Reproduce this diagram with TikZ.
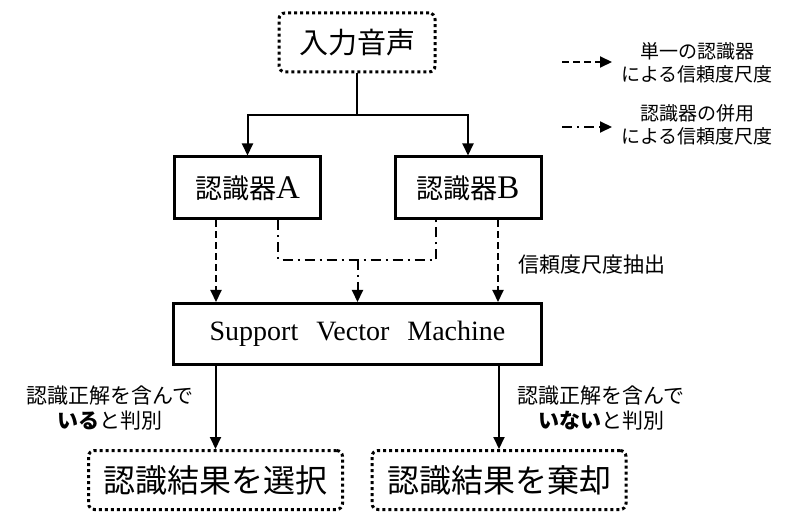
\documentclass[tikz,border=0pt]{standalone}
\usepackage{fontspec}
\setmainfont{Liberation Serif}
\newfontfamily\jp{Noto Sans CJK JP}
\usetikzlibrary{arrows.meta,calc,positioning}
\newcommand{\jpbox}[1]{{\jp\fontsize{27}{27}\selectfont #1}}
\tikzset{dotbox/.style={rectangle,draw,line width=3pt,dash pattern=on 3pt off 3pt,
rounded corners=6pt,inner sep=0pt,font=\jp\fontsize{32}{32}\selectfont},
recog/.style={rectangle,draw,line width=3pt,minimum width=146pt,minimum height=62pt,
inner sep=0pt,font=\fontsize{33}{33}\selectfont},
flow/.style={line width=2pt},
single/.style={flow,dash pattern=on 7pt off 4pt},
joint/.style={flow,dash pattern=on 10pt off 5pt on 2pt off 5pt},
lbl/.style={font=\jp\fontsize{19}{23}\selectfont,align=center,inner sep=0pt},
>={Triangle[length=12pt,width=11pt]}}

\begin{document}
\begin{tikzpicture}[x=1pt,y=-1pt]
  \useasboundingbox (0,0) rectangle (793,513);

  \node (voice) [dotbox,minimum width=156pt,minimum height=59pt,
    font=\jp\fontsize{29}{29}\selectfont] at (357,42.5) {入力音声};
  \coordinate (split) at (357,115);
  \node (recA) [recog] at (247.5,188) {\jpbox{認識器}A};
  \node (recB) [recog] at (468,188) {\jpbox{認識器}B};
  \node (svm) [recog,minimum width=368pt,minimum height=61pt,
    font=\fontsize{28}{28}\selectfont] at (357.5,334)
    {Support\hspace{18pt}Vector\hspace{18pt}Machine};
  \coordinate (merge) at (svm.north |- 0,260);
  \node (select) [dotbox,minimum width=254pt,minimum height=59pt] at (215.5,480) {認識結果を選択};
  \node (reject) [dotbox,minimum width=254pt,minimum height=59pt] at (499,480) {認識結果を棄却};

  \draw [flow] (voice) -- (split);
  \draw [flow,->] (split) -| (recA);
  \draw [flow,->] (split) -| (recB);

  \draw [single,->] ([xshift=-31.5pt]recA.south) -- ([xshift=-31.5pt]recA.south |- svm.north);
  \draw [single,->] ([xshift=30pt]recB.south) -- ([xshift=30pt]recB.south |- svm.north);
  \draw [joint] ([xshift=30.5pt]recA.south) |- (merge) -| ([xshift=-32pt]recB.south);
  \draw [joint,->] (merge) -- (svm.north);

  \draw [flow,->] (select.north |- svm.south) -- (select.north);
  \draw [flow,->] (reject.north |- svm.south) -- (reject.north);

  \node (extract) [lbl,font=\jp\fontsize{21}{25}\selectfont] at (592,265) {信頼度尺度抽出};
  \node (selectlbl) [lbl,font=\jp\fontsize{21}{25}\selectfont] at (110,408)
    {認識正解を含んで\\{\bfseries いる}と判別};
  \node (rejectlbl) [lbl,font=\jp\fontsize{21}{25}\selectfont] at (601,408)
    {認識正解を含んで\\{\bfseries いない}と判別};

  % legend
  \coordinate (singleA) at (562,62);
  \coordinate (singleB) at (612,62);
  \coordinate (jointA) at (562,127);
  \coordinate (jointB) at (612,127);
  \draw [single,->] (singleA) -- (singleB);
  \draw [joint,->] (jointA) -- (jointB);
  \node (singletxt) [lbl] at (697,63) {単一の認識器\\による信頼度尺度};
  \node (jointtxt) [lbl] at (697,125) {認識器の併用\\による信頼度尺度};
\end{tikzpicture}
\end{document}
